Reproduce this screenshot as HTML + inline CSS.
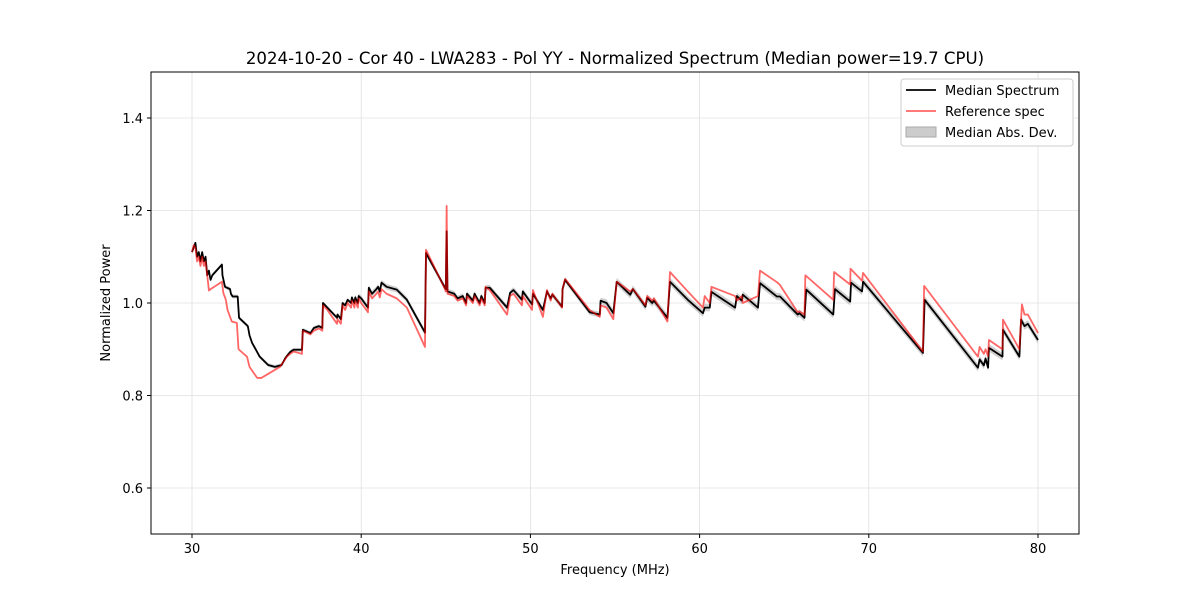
<!DOCTYPE html>
<html><head><meta charset="utf-8"><style>
body{margin:0;background:#fff;font-family:"Liberation Sans","DejaVu Sans",sans-serif}
svg text{font-family:"DejaVu Sans","Liberation Sans",sans-serif}
</style></head><body>
<svg id="c" width="1200" height="600" xmlns="http://www.w3.org/2000/svg">
<rect width="1200" height="600" fill="#fff"/>
<text x="615" y="64" font-size="16.6" text-anchor="middle">2024-10-20 - Cor 40 - LWA283 - Pol YY - Normalized Spectrum (Median power=19.7 CPU)</text>
<g id="grid"></g><g id="band"></g><g id="series"></g>
<rect x="151" y="72" width="928" height="462" fill="none" stroke="#000" stroke-width="1"/>
<g id="ticks"></g>
<text x="615" y="574" font-size="13" text-anchor="middle">Frequency (MHz)</text>
<text x="110" y="303" font-size="13" text-anchor="middle" transform="rotate(-90 110 303)">Normalized Power</text>
<g>
<rect x="901" y="79" width="172" height="67" rx="3" fill="#fff" stroke="#ccc"/>
<line x1="906" y1="90" x2="936" y2="90" stroke="#000" stroke-width="1.8"/>
<text x="945" y="95" font-size="13">Median Spectrum</text>
<line x1="906" y1="111" x2="936" y2="111" stroke="#ff6666" stroke-width="1.8"/>
<text x="945" y="116" font-size="13">Reference spec</text>
<rect x="906" y="127" width="30" height="10" fill="#cccccc" stroke="#aaa"/>
<text x="945" y="137" font-size="13">Median Abs. Dev.</text>
</g>
</svg>
<script>
const xTicks=[30,40,50,60,70,80];
const yTicks=[0.6,0.8,1.0,1.2,1.4];
const medFreq=[30.0,30.1,30.2,30.3,30.4,30.5,30.6,30.7,30.8,30.9,31.0,31.06,31.1,31.2,31.77,31.8,31.95,32.25,32.3,32.4,32.7,32.78,33.3,33.4,33.55,34.0,34.5,34.9,35.3,35.5,35.6,35.8,36.0,36.5,36.55,37.0,37.2,37.5,37.7,37.74,38.0,38.57,38.6,38.8,38.9,39.05,39.2,39.4,39.45,39.6,39.65,39.8,39.85,40.0,40.4,40.45,40.64,40.9,41.0,41.1,41.2,41.5,42.1,42.7,43.77,43.83,44.95,45.0,45.05,45.1,45.5,45.7,46.0,46.2,46.25,46.6,46.7,47.0,47.1,47.3,47.35,47.6,48.62,48.8,49.0,49.5,49.55,50.1,50.15,50.74,50.98,51.2,51.3,51.87,51.9,52.05,53.5,54.1,54.15,54.5,54.9,55.1,55.9,56.06,56.8,56.9,57.2,57.3,58.1,58.25,59.3,60.2,60.3,60.6,60.7,62.1,62.2,62.5,62.55,63.45,63.57,64.57,64.75,65.8,65.9,66.2,66.3,67.9,68.0,68.9,68.95,69.6,69.66,73.2,73.3,76.45,76.55,76.8,76.9,77.05,77.1,77.9,77.93,78.9,79.0,79.2,79.4,80.0];
const medVal=[1.11,1.12,1.13,1.10,1.11,1.09,1.11,1.09,1.10,1.06,1.07,1.057,1.05,1.06,1.083,1.06,1.035,1.03,1.02,1.014,1.014,0.968,0.95,0.93,0.914,0.884,0.866,0.862,0.866,0.88,0.885,0.894,0.899,0.899,0.942,0.935,0.946,0.95,0.946,1.0,0.99,0.968,0.975,0.965,1.0,0.995,1.007,1.0,1.012,1.0,1.012,1.0,1.015,1.01,0.99,1.033,1.02,1.03,1.035,1.025,1.044,1.035,1.029,1.007,0.936,1.108,1.033,1.03,1.155,1.025,1.02,1.01,1.015,1.0,1.02,1.005,1.02,1.0,1.015,1.0,1.033,1.033,0.99,1.022,1.028,1.007,1.025,0.997,1.02,0.985,1.025,1.01,1.018,0.992,1.03,1.05,0.98,0.975,1.005,1.0,0.978,1.046,1.018,1.03,0.992,1.011,1.0,1.005,0.968,1.046,1.007,0.978,0.99,0.99,1.024,0.99,1.015,1.005,1.018,0.99,1.043,1.014,1.014,0.975,0.978,0.968,1.029,0.975,1.03,1.003,1.044,1.025,1.046,0.892,1.007,0.86,0.878,0.865,0.88,0.86,0.903,0.884,0.942,0.884,0.964,0.95,0.955,0.92];
const refFreq=[30.0,30.1,30.2,30.3,30.4,30.5,30.6,30.7,30.8,30.9,31.0,31.1,31.77,31.85,32.0,32.1,32.35,32.65,32.75,33.25,33.4,33.85,34.1,35.2,35.5,35.6,35.8,36.0,36.5,36.55,37.0,37.2,37.5,37.7,37.74,38.0,38.57,38.6,38.8,38.9,39.05,39.2,39.4,39.45,39.6,39.65,39.8,39.85,40.0,40.4,40.45,40.64,40.9,41.0,41.1,41.2,41.5,42.1,42.7,43.77,43.83,44.95,45.0,45.05,45.1,45.5,45.7,46.0,46.2,46.25,46.6,46.7,47.0,47.1,47.3,47.35,47.6,48.62,48.8,49.0,49.5,49.55,50.1,50.15,50.74,50.98,51.2,51.3,51.87,51.9,52.05,53.5,54.1,54.15,54.5,54.9,55.1,55.9,56.06,56.8,56.9,57.2,57.3,58.1,58.25,59.3,60.2,60.3,60.6,60.7,62.1,62.2,62.5,62.55,63.45,63.57,64.57,64.75,65.8,65.9,66.2,66.25,67.9,67.95,68.9,68.92,69.6,69.66,73.2,73.27,76.45,76.55,76.8,76.9,77.05,77.1,77.9,77.93,78.9,79.05,79.2,79.4,80.0];
const refVal=[1.11,1.125,1.12,1.09,1.10,1.08,1.10,1.08,1.09,1.06,1.027,1.03,1.046,1.022,1.007,0.985,0.96,0.957,0.9,0.884,0.862,0.838,0.838,0.862,0.878,0.884,0.89,0.895,0.89,0.94,0.932,0.94,0.945,0.94,0.995,0.985,0.955,0.965,0.955,0.995,0.985,1.0,0.99,1.005,0.99,1.005,0.99,1.01,1.0,0.98,1.025,1.01,1.02,1.025,1.012,1.03,1.02,1.01,0.99,0.905,1.115,1.03,1.025,1.21,1.02,1.015,1.005,1.01,0.995,1.015,1.0,1.015,0.995,1.01,0.995,1.035,1.028,0.975,1.015,1.02,0.995,1.015,0.985,1.028,0.97,1.028,1.005,1.02,0.99,1.03,1.052,0.985,0.97,0.995,0.99,0.965,1.046,1.025,1.03,0.995,1.015,1.005,1.01,0.96,1.067,1.025,0.99,1.015,1.0,1.035,1.015,1.005,1.015,1.0,1.015,1.07,1.045,1.039,0.98,0.982,0.975,1.06,1.007,1.067,1.04,1.074,1.048,1.065,0.895,1.037,0.884,0.905,0.89,0.9,0.885,0.92,0.9,0.964,0.9,0.997,0.975,0.975,0.935];
const madVal=[0.004,0.006,0.008];
const NS="http://www.w3.org/2000/svg";
const X=f=>192+(f-30)*16.92;
const Y=v=>303-(v-1.0)*462.5;
function mk(t,a,p){const e=document.createElementNS(NS,t);for(const k in a)e.setAttribute(k,a[k]);p.appendChild(e);return e;}
const grid=document.getElementById('grid'),ticks=document.getElementById('ticks');
xTicks.forEach(t=>{
 const g=mk('line',{x1:X(t),x2:X(t),y1:72,y2:534,stroke:'#e0e0e0','stroke-width':0.8},grid);
 
 
 mk('line',{x1:X(t),x2:X(t),y1:534,y2:538,stroke:'#000'},ticks);
 const tx=mk('text',{x:X(t),y:553,'font-size':13,'text-anchor':'middle'},ticks);
 tx.textContent=t;
 
 
});
yTicks.forEach(t=>{
 const g=mk('line',{x1:151,x2:1079,y1:Y(t),y2:Y(t),stroke:'#e0e0e0','stroke-width':0.8},grid);
 
 
 mk('line',{x1:147,x2:151,y1:Y(t),y2:Y(t),stroke:'#000'},ticks);
 const tx=mk('text',{x:143,y:Y(t)+5,'font-size':13,'text-anchor':'end'},ticks);
 tx.textContent=t.toFixed(1);
 
 
});
const band=document.getElementById('band');
let up='',dn='';
medFreq.forEach((f,i)=>{const m=madVal[Math.min(2,Math.floor(i*3/medFreq.length))];up+=(i?'L':'M')+X(f)+','+Y(medVal[i]+m);});
for(let i=medFreq.length-1;i>=0;i--){const m=madVal[Math.min(2,Math.floor(i*3/medFreq.length))];dn+='L'+X(medFreq[i])+','+Y(medVal[i]-m);}
const bp=mk('path',{d:up+dn+'Z',fill:'#bbbbbb','fill-opacity':0.7},band);


const s=document.getElementById('series');
const mp=mk('path',{d:medFreq.map((f,i)=>(i?'L':'M')+X(f)+','+Y(medVal[i])).join(''),fill:'none',stroke:'#000','stroke-width':1.8,'stroke-linejoin':'round'},s);


const rp=mk('path',{d:refFreq.map((f,i)=>(i?'L':'M')+X(f)+','+Y(refVal[i])).join(''),fill:'none',stroke:'#ff0000','stroke-opacity':0.6,'stroke-width':1.8,'stroke-linejoin':'round'},s);


</script>
</body></html>
